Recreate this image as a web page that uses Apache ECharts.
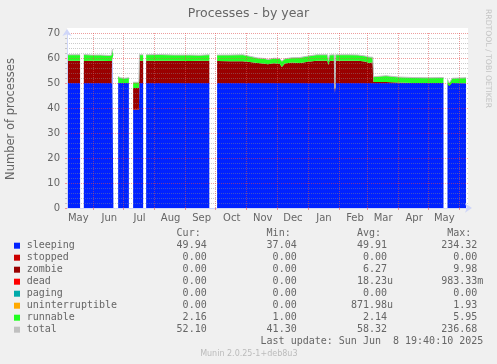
<!DOCTYPE html>
<html><head><meta charset="utf-8">
<script src="https://cdn.jsdelivr.net/npm/echarts@6/dist/echarts.min.js"></script>
<style>html,body{margin:0;padding:0;background:#f0f0f0}#c{width:497px;height:364px}</style>
</head><body><div id="c"></div>
<script>
// ---- data ----
const dates = [
 '2024-05-05 17:00','2024-05-12 00:00','2024-05-18 18:00','2024-05-20 12:00','2024-05-22 12:00',
 '2024-05-30 00:00','2024-06-08 00:00','2024-06-17 00:00','2024-06-19 06:00','2024-06-19 18:00',
 '2024-06-21 00:00','2024-06-22 12:00','2024-06-25 18:00','2024-06-28 00:00','2024-07-02 00:00',
 '2024-07-06 10:00','2024-07-08 12:00','2024-07-10 16:00','2024-07-16 10:00','2024-07-17 00:00',
 '2024-07-20 16:00','2024-07-22 00:00','2024-07-23 16:00','2024-08-05 00:00','2024-08-20 00:00',
 '2024-09-05 00:00','2024-09-15 00:00','2024-09-24 16:00','2024-09-26 00:00','2024-10-02 10:00',
 '2024-10-15 00:00','2024-10-28 00:00','2024-11-04 00:00','2024-11-12 00:00','2024-11-19 00:00',
 '2024-11-22 00:00','2024-11-28 00:00','2024-12-04 00:00','2024-12-06 00:00','2024-12-09 00:00',
 '2024-12-16 00:00','2024-12-24 00:00','2025-01-03 00:00','2025-01-10 00:00','2025-01-20 12:00',
 '2025-01-21 12:00','2025-01-22 12:00','2025-01-27 06:00','2025-01-28 00:00','2025-01-28 18:00',
 '2025-02-10 00:00','2025-02-20 00:00','2025-02-27 00:00','2025-03-03 00:00','2025-03-06 18:00',
 '2025-03-07 12:00','2025-03-20 00:00','2025-04-01 00:00','2025-04-15 00:00','2025-05-01 00:00',
 '2025-05-16 06:00','2025-05-18 00:00','2025-05-20 06:00','2025-05-22 00:00','2025-05-25 00:00',
 '2025-06-07 18:00'
];
const sleeping = [
 50,50,50,null,50, 50,50,50,50,61.3, 61.2,null,50,50,50, 50,null,39.3,39.3,50,
 50,null,50,50,50, 50,50,50,null,50, 50,50,50,50,50, 50,50,50,50,50,
 50,50,50,50,50, 50,50,50,46,50, 50,50,50,50,50, 50,50,50,50,50,
 50,null,49.5,48.8,50, 49.94
];
const zombie = [
 8.9,8.9,8.9,null,8.8, 8.9,8.9,8.8,8.8,0, 0,null,0,0,0, 0,null,8.7,8.7,8.9,
 8.9,null,8.9,8.9,8.9, 8.8,8.9,8.9,null,8.8, 8.7,8.7,8.4,8.0,7.7, 7.5,7.9,7.6,6.4,7.8,
 8.2,8.0,8.6,8.9,8.9, 7.2,8.8,8.9,1.5,8.9, 8.9,8.9,8.6,8.0,8.3, 0.4,0.4,0.2,0,0,
 0,null,0,0,0, 0
];
const runnable = [
 2.4,2.4,2.4,null,2.6, 2.3,2.3,2.2,2.4,2.0, 2.2,null,2.6,2.1,1.9, 2.1,null,2.3,2.3,2.4,
 2.4,null,2.4,2.5,2.3, 2.4,2.2,2.4,null,2.4, 2.5,2.6,2.3,2.0,2.1, 1.9,2.0,2.2,2.3,1.9,
 1.9,2.2,2.3,2.4,2.4, 1.8,2.4,2.4,0.3,2.4, 2.4,2.3,2.2,2.4,2.0, 2.1,2.5,2.2,2.2,2.1,
 2.2,null,2.0,1.2,1.9, 2.16
];
const total = [
 61.3,61.3,61.3,null,61.4, 61.2,61.2,61.0,61.2,63.3, 63.4,null,52.6,52.1,51.9, 52.1,null,50.3,50.3,61.3,
 61.3,null,61.3,61.4,61.2, 61.2,61.1,61.3,null,61.2, 61.2,61.3,60.7,60.0,59.8, 59.4,59.9,59.8,58.7,59.7,
 60.1,60.2,60.9,61.3,61.3, 59.0,61.2,61.3,47.8,61.3, 61.3,61.2,60.8,60.4,60.3, 52.5,52.9,52.4,52.2,52.1,
 52.2,null,51.5,50.0,51.9, 52.1
];
const axisStart = '2024-05-05 17:00';
const axisEnd = '2025-06-09 17:00';
const monthStartDates = ['2024-06-01','2024-07-01','2024-08-01','2024-09-01','2024-10-01','2024-11-01',
  '2024-12-01','2025-01-01','2025-02-01','2025-03-01','2025-04-01','2025-05-01','2025-06-01'];
const monthLabelDates = ['2024-05-17','2024-06-17','2024-07-17','2024-08-17','2024-09-17','2024-10-17',
  '2024-11-17','2024-12-17','2025-01-17','2025-02-17','2025-03-17','2025-04-17','2025-05-17'];
const monthLabels = ['May','Jun','Jul','Aug','Sep','Oct','Nov','Dec','Jan','Feb','Mar','Apr','May'];

const legendNames = ['sleeping','stopped','zombie','dead','paging','uninterruptible','runnable','total'];
const legendColors = ['#0022ff','#cc0000','#990000','#ff0000','#00aaaa','#ffaa00','#22ff22','#c0c0c0'];
const curVals = ['49.94','0.00','0.00','0.00','0.00','0.00','2.16','52.10'];
const minVals = ['37.04','0.00','0.00','0.00','0.00','0.00','1.00','41.30'];
const avgVals = ['49.91','0.00','6.27','18.23u','0.00','871.98u','2.14','58.32'];
const maxVals = ['234.32','0.00','9.98','983.33m','0.00','1.93','5.95','236.68'];
const statHeaders = ['Cur:','Min:','Avg:','Max:'];

// ---- chart ----
const P = s => +echarts.time.parse(s);
const toPairs = arr => dates.map((d, i) => [P(d), arr[i] == null ? '-' : arr[i]]);
const labelTimes = monthLabelDates.map(P);
const tickTimes = monthStartDates.map(P);

const TXT = '#666';
const MAJ = 'rgba(222,79,79,0.55)';
const MIN = 'rgba(140,140,140,0.45)';

function area(name, arr, color) {
  return { name, type: 'line', stack: 'p', xAxisIndex: 0, data: toPairs(arr), symbol: 'none', showSymbol: false,
    connectNulls: false, lineStyle: { width: 0 }, itemStyle: { color },
    areaStyle: { color, opacity: 1 }, z: 2, silent: true };
}

const graphics = [];
graphics.push({ type: 'rect', shape: { x: 67, y: 28, width: 401, height: 5 }, style: { fill: '#fff' }, silent: true });
graphics.push({ type: 'text', x: 248.5, y: 13.5, style: { text: 'Processes - by year', fontFamily: 'DejaVu Sans', fontSize: 12.5, fill: TXT, align: 'center', verticalAlign: 'middle' } });
graphics.push({ type: 'text', x: 11, y: 119, rotation: Math.PI / 2, style: { text: 'Number of processes', fontFamily: 'DejaVu Sans', fontSize: 11.5, fill: TXT, align: 'center', verticalAlign: 'middle' } });
graphics.push({ type: 'text', x: 488, y: 58.5, rotation: -Math.PI / 2, style: { text: 'RRDTOOL / TOBI OETIKER', fontFamily: 'DejaVu Sans', fontSize: 7.7, fill: '#c4c4c4', align: 'center', verticalAlign: 'middle' } });

const MONO = 'DejaVu Sans Mono';
const CW = 6.02;
const colRight = [206.7, 296.7, 387, 477.3];
statHeaders.forEach((h, j) => {
  graphics.push({ type: 'text', x: colRight[j] - 5 * CW, y: 233.5, style: { text: h, fontFamily: MONO, fontSize: 10, fill: TXT, align: 'left', verticalAlign: 'middle' } });
});
const cols = [curVals, minVals, avgVals, maxVals];
legendNames.forEach((n, i) => {
  const y = 245.7 + 12 * i;
  graphics.push({ type: 'rect', shape: { x: 14, y: y - 3, width: 6, height: 6 }, style: { fill: legendColors[i] } });
  graphics.push({ type: 'text', x: 26.7, y, style: { text: n, fontFamily: MONO, fontSize: 10, fill: TXT, align: 'left', verticalAlign: 'middle' } });
  cols.forEach((arr, j) => {
    const s = arr[i];
    const suffix = /[a-z]$/.test(s);
    graphics.push({ type: 'text', x: colRight[j] + (suffix ? CW : 0), y, style: { text: s, fontFamily: MONO, fontSize: 10, fill: TXT, align: 'right', verticalAlign: 'middle' } });
  });
});
graphics.push({ type: 'text', x: 483.3, y: 341.7, style: { text: 'Last update: Sun Jun  8 19:40:10 2025', fontFamily: MONO, fontSize: 10, fill: TXT, align: 'right', verticalAlign: 'middle' } });
graphics.push({ type: 'text', x: 248.8, y: 353.5, style: { text: 'Munin 2.0.25-1+deb8u3', fontFamily: 'DejaVu Sans', fontSize: 8, fill: '#bbbbbb', align: 'center', verticalAlign: 'middle' } });

const option = {
  animation: false,
  backgroundColor: '#f0f0f0',
  grid: { left: 67, top: 33, width: 401, height: 175, show: true, backgroundColor: '#ffffff', borderWidth: 0, containLabel: false, outerBoundsMode: 'none' },
  xAxis: [
    { type: 'time', min: P(axisStart), max: P(axisEnd), position: 'bottom', show: false },
    {
      type: 'value', min: P(axisStart), max: P(axisEnd), position: 'bottom', z: 5,
      axisLine: { show: true, onZero: false, lineStyle: { color: '#CFD6F8', width: 1 }, symbol: ['none', 'arrow'], symbolSize: [7, 7], symbolOffset: [0, 4] },
      axisTick: { show: true, length: 2, customValues: tickTimes, lineStyle: { color: MAJ } },
      axisLabel: {
        customValues: labelTimes,
        formatter: v => { const k = labelTimes.indexOf(v); return k >= 0 ? monthLabels[k] : ''; },
        color: TXT, fontFamily: 'DejaVu Sans', fontSize: 10, margin: 5, hideOverlap: false
      },
      splitLine: { show: true, customValues: tickTimes, lineStyle: { color: MAJ, type: [1, 1], width: 1 } }
    }
  ],
  yAxis: {
    type: 'value', min: 0, max: 70, interval: 10, z: 5,
    axisLine: { show: true, lineStyle: { color: '#CFD6F8', width: 1 }, symbol: ['none', 'arrow'], symbolSize: [7, 7], symbolOffset: [0, 4] },
    axisTick: { show: true, length: 2, lineStyle: { color: MAJ } },
    minorTick: { show: true, splitNumber: 5, length: 2, lineStyle: { color: MIN } },
    splitLine: { show: true, lineStyle: { color: MAJ, type: [1, 1], width: 1 } },
    minorSplitLine: { show: true, lineStyle: { color: MIN, type: [1, 1], width: 1 } },
    axisLabel: { color: TXT, fontFamily: 'DejaVu Sans', fontSize: 10, margin: 7 }
  },
  series: [
    area('sleeping', sleeping, legendColors[0]),
    area('zombie', zombie, legendColors[2]),
    area('runnable', runnable, legendColors[6]),
    { name: 'total', type: 'line', xAxisIndex: 0, data: toPairs(total),
      symbol: 'none', showSymbol: false, connectNulls: false,
      lineStyle: { color: legendColors[7], width: 1 }, z: 3, silent: true }
  ],
  graphic: graphics
};
const chart = echarts.init(document.getElementById('c'), null, { renderer: 'canvas' });
chart.setOption(option);
</script></body></html>
